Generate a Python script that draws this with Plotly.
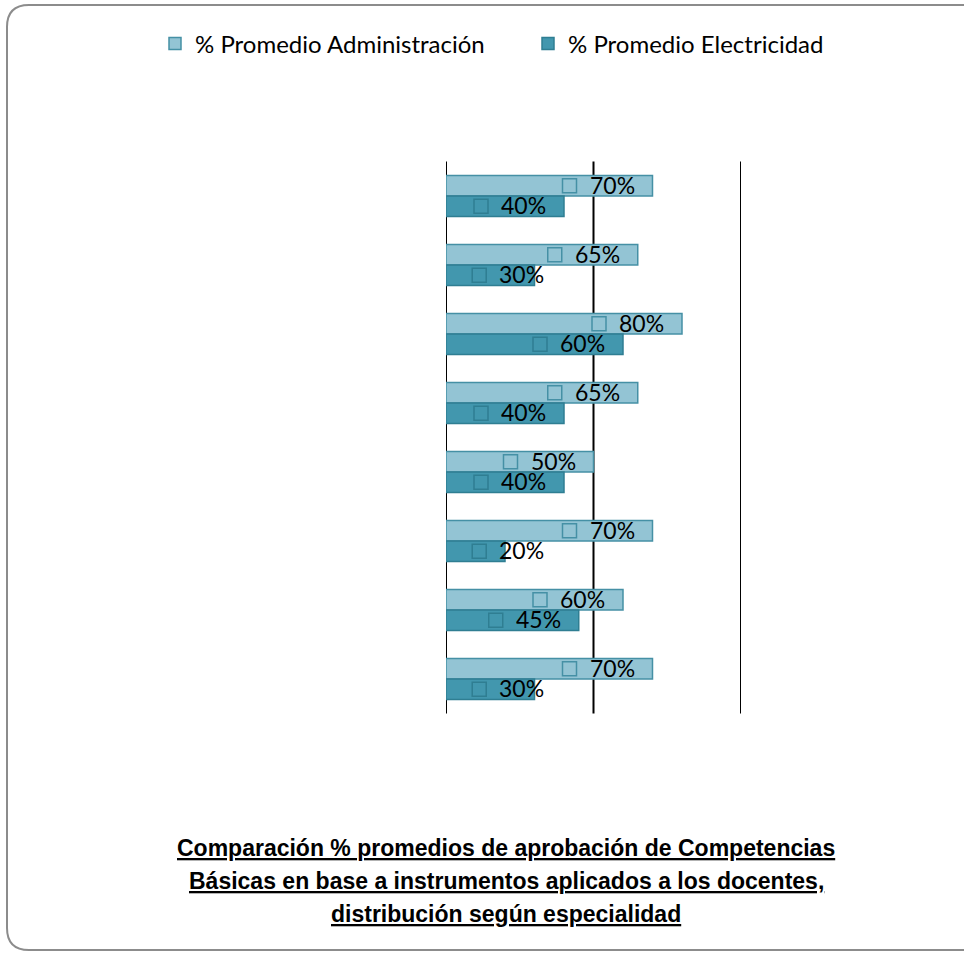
import plotly.graph_objects as go

categories = ["Competencia 1", "Competencia 2", "Competencia 3", "Competencia 4",
              "Competencia 5", "Competencia 6", "Competencia 7", "Competencia 8"]
admin = [70, 65, 80, 65, 50, 70, 60, 70]
elec = [40, 30, 60, 40, 40, 20, 45, 30]
series_names = ["% Promedio Administración", "% Promedio Electricidad"]
grid_vals = [0, 50, 100]
title_lines = ["Comparación % promedios de aprobación de Competencias",
               "Básicas en base a instrumentos aplicados a los docentes,",
               "distribución según especialidad"]

W, H = 964, 955
fill_a, line_a = "#93C4D4", "#4590A5"
fill_e, line_e = "#4297AE", "#2F7E92"
FONT = "Lato, Carlito, Calibri, sans-serif"
PLOT_TOP, PLOT_BOT = 161.5, 713.5

fig = go.Figure()
fig.add_trace(go.Bar(y=categories, x=admin, orientation="h", name=series_names[0],
                     legend="legend",
                     marker=dict(color=fill_a, line=dict(color=line_a, width=1.5))))
fig.add_trace(go.Bar(y=categories, x=elec, orientation="h", name=series_names[1],
                     legend="legend2",
                     marker=dict(color=fill_e, line=dict(color=line_e, width=1.5))))

bargap = 0.406
off = (1 - bargap) / 4
annotations = []
shapes = []
for i in range(len(categories)):
    for vals, sign, fc, lc in ((admin, -1, fill_a, line_a), (elec, 1, fill_e, line_e)):
        v = vals[i]
        pos = max(v, 39.4)
        yy = i + sign * off
        annotations.append(dict(x=pos, y=yy, xref="x", yref="y", text=f"{v}%",
                                showarrow=False, xanchor="right", yanchor="middle",
                                xshift=-16, yshift=1, height=20,
                                font=dict(family=FONT, size=23, color="#000000")))
        shapes.append(dict(type="rect", xref="x", yref="y", xsizemode="pixel",
                           ysizemode="pixel", xanchor=pos, yanchor=yy,
                           x0=-90, x1=-76, y0=-7, y1=7,
                           fillcolor=fc, line=dict(color=lc, width=1.5), layer="above"))

# vertical gridlines
for gv in grid_vals:
    shapes.append(dict(type="line", xref="x", yref="paper", x0=gv, x1=gv,
                       y0=1 - PLOT_BOT / H, y1=1 - PLOT_TOP / H,
                       line=dict(color="#000000", width=2), layer="below"))

for k, (t, ty) in enumerate(zip(title_lines, [848, 881, 914])):
    annotations.append(dict(x=506 / W, y=1 - ty / H, xref="paper", yref="paper",
                            text=f"<u><b>{t}</b></u>",
                            showarrow=False, xanchor="center", yanchor="middle",
                            font=dict(family="Liberation Sans Narrow, Arial Narrow, Liberation Sans",
                                      size=23, color="#000000")))

# rounded frame (pixel coords converted to paper)
r = 22
L, T, R, B = 7, 5, 975, 950
def P(x, y):
    return f"{x / W},{1 - y / H}"
frame_path = " ".join([
    f"M {P(L + r, T)}", f"L {P(R, T)}", f"L {P(R, B)}", f"L {P(L + r, B)}",
    f"Q {P(L, B)} {P(L, B - r)}", f"L {P(L, T + r)}", f"Q {P(L, T)} {P(L + r, T)}", "Z"])
shapes.append(dict(type="path", xref="paper", yref="paper", path=frame_path,
                   line=dict(color="#8C8C8C", width=2), fillcolor="rgba(0,0,0,0)", layer="below"))

leg_common = dict(orientation="h", yanchor="middle", xanchor="left",
                  font=dict(family=FONT, size=24, color="#000000"),
                  bgcolor="rgba(0,0,0,0)", borderwidth=0, itemwidth=30)
fig.update_layout(
    width=W, height=H,
    margin=dict(l=0, r=0, t=0, b=0),
    paper_bgcolor="white", plot_bgcolor="white",
    barmode="group", bargap=bargap, bargroupgap=0,
    showlegend=True,
    legend=dict(x=155 / W, y=1 - 44 / H, **leg_common),
    legend2=dict(x=528 / W, y=1 - 44 / H, **leg_common),
    xaxis=dict(domain=[446 / W, 741 / W], range=[0, 100],
               showgrid=False, zeroline=False,
               showticklabels=False, ticks="", showline=False, fixedrange=True),
    yaxis=dict(domain=[1 - PLOT_BOT / H, 1 - PLOT_TOP / H], autorange="reversed",
               showticklabels=False, ticks="", showgrid=False, showline=False,
               zeroline=False, fixedrange=True),
    annotations=annotations, shapes=shapes,
)

fig.write_html("out.html", config={"displayModeBar": False},
               post_script="document.body.style.margin='0';")
